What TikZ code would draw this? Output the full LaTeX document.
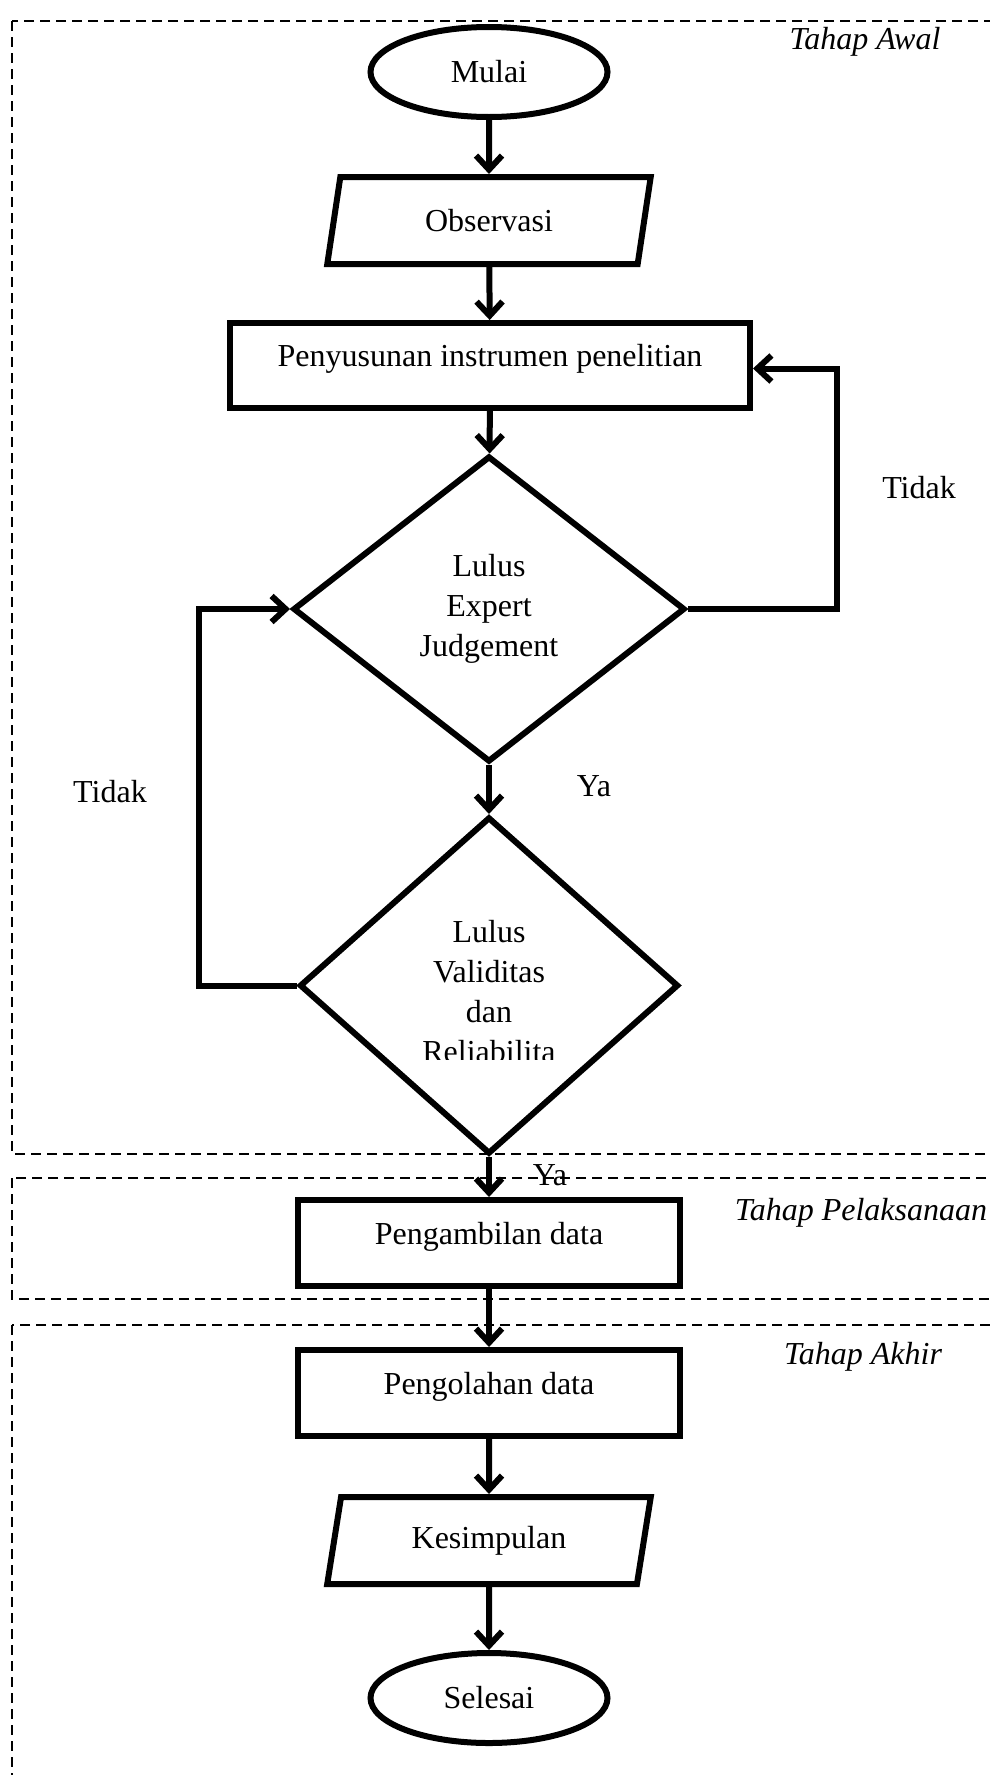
\documentclass[tikz,border=0pt]{standalone}
\usepackage{fontspec}
\setmainfont{Liberation Serif}
\usetikzlibrary{shapes.geometric,arrows.meta}
\tikzset{
  fnt/.style={font=\fontsize{32}{40}\selectfont},
  shp/.style={draw, line width=6pt, inner sep=0pt, fnt},
  term/.style={shp, ellipse, minimum width=237pt, minimum height=90pt},
  io/.style={shp, trapezium, trapezium left angle=76, trapezium right angle=104,
    trapezium stretches=true, minimum width=324pt, minimum height=87pt},
  proc/.style={shp, rectangle, text height=22pt, text depth=20pt},
  dec/.style={shp, diamond, align=center},
  arr/.style={line width=6pt, -{Straight Barb[length=14pt,width=26pt,line width=6pt]}},
  zone/.style={line width=2.2pt, dash pattern=on 10pt off 6pt},
  lbl/.style={fnt, inner sep=0pt},
  zlbl/.style={fnt, font=\fontsize{32}{40}\selectfont\itshape, inner sep=0pt},
}
\begin{document}
\begin{tikzpicture}[x=1pt,y=-1pt]
\clip (0,0) rectangle (990,1775);
\fill[white] (0,0) rectangle (990,1775);

% zones
\draw[zone] (12,21) rectangle (1010,1154);
\draw[zone] (12,1178) rectangle (1010,1299);
\draw[zone] (12,1325) rectangle (1010,1800);
\node[zlbl] (zawal) at (865,42) {Tahap Awal};
\node[zlbl] (zpel) at (861,1213) {Tahap Pelaksanaan};
\node[zlbl] (zakh) at (863,1357) {Tahap Akhir};

% nodes
\node[term] (mulai) at (489,72) {Mulai};
\node[io] (obs) at (489,220.5) {Observasi};
\node[proc, minimum width=520pt, minimum height=85pt] (peny) at (490,365.5) {Penyusunan instrumen penelitian};
\node[dec, minimum width=392pt, minimum height=306pt] (d1) at (489,609) {Lulus\\Expert\\Judgement};
\node[dec, minimum width=379pt, minimum height=337pt] (d2) at (489,985.5) {};
\begin{scope}
  \clip (360,900) rectangle (620,1059);
  \node[lbl, align=center] (d2txt) at (489,992) {Lulus\\Validitas\\dan\\Reliabilita};
\end{scope}
\node[proc, minimum width=382pt, minimum height=86pt] (ambil) at (489,1243) {Pengambilan data};
\node[proc, minimum width=382pt, minimum height=86pt] (olah) at (489,1393) {Pengolahan data};
\node[io] (kes) at (489,1540.5) {Kesimpulan};
\node[term] (selesai) at (489,1698) {Selesai};

% labels
\node[lbl] (ya1) at (594,786) {Ya};
\node[lbl] (ya2) at (550,1175) {Ya};
\node[lbl] (tdk1) at (919,488) {Tidak};
\node[lbl] (tdk2) at (110,792) {Tidak};

% connectors
\draw[arr] (mulai) -- (obs);
\draw[arr] (obs) -- (peny);
\draw[arr] (peny) -- (d1);
\draw[arr] (d1.east) -- (837,609) |- ([yshift=-3pt]peny.east);
\draw[arr] (d1.south) -- (d2.north);
\draw[arr] (d2.west) -- (199,985.5) |- (d1.west);
\draw[arr] (d2.south) -- (ambil.north);
\draw[arr] (ambil) -- (olah);
\draw[arr] (olah) -- (kes);
\draw[arr] (kes) -- (selesai);
\end{tikzpicture}
\end{document}
